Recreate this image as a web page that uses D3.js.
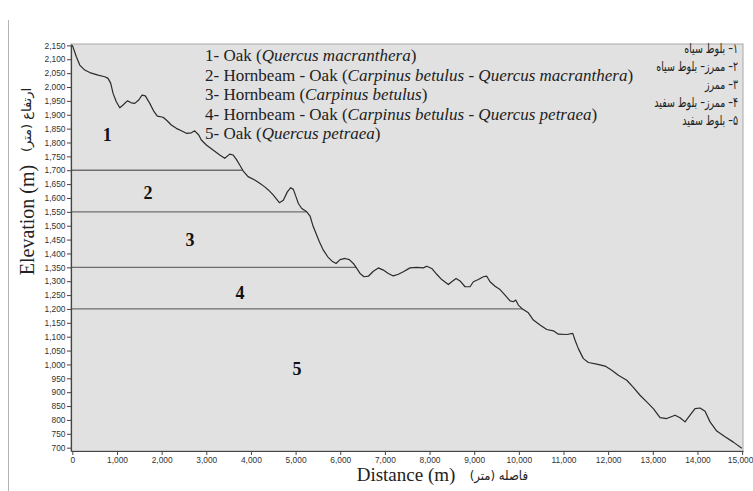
<!DOCTYPE html>
<html><head><meta charset="utf-8">
<script src="https://cdn.jsdelivr.net/npm/d3@7"></script>
<style>body{margin:0;background:#fff}svg{display:block}</style>
</head><body><svg id="c" width="753" height="491"></svg>
<script>
const distance = [0,90,166,278,390,576,726,800,860,912,985,1062,1136,1232,1321,1398,1487,1561,1635,1734,1830,1904,2031,2105,2217,2329,2441,2553,2665,2741,2831,2889,3001,3151,3301,3413,3525,3599,3673,3749,3823,3935,4085,4197,4309,4390,4502,4636,4726,4815,4891,4950,5010,5062,5138,5250,5324,5384,5458,5532,5622,5720,5810,5906,5996,6108,6204,6293,6370,6443,6533,6629,6741,6853,6965,7077,7189,7301,7413,7563,7713,7861,7937,8049,8161,8273,8421,8497,8594,8683,8795,8907,8981,9093,9205,9281,9355,9467,9579,9691,9803,9877,9930,9989,10065,10213,10325,10475,10625,10773,10885,11073,11207,11259,11333,11445,11557,11745,11931,12081,12228,12417,12564,12714,12864,13012,13162,13312,13498,13610,13722,13834,13946,14058,14170,14282,14432,14618,14804,14992];
const elevation = [2151,2109,2079,2061,2052,2043,2037,2031,2013,1977,1947,1925,1935,1950,1943,1941,1953,1971,1968,1941,1911,1895,1891,1881,1863,1851,1842,1833,1835,1842,1827,1809,1791,1773,1755,1743,1758,1755,1739,1719,1698,1677,1665,1653,1640,1629,1610,1583,1592,1622,1637,1631,1604,1580,1562,1550,1535,1502,1472,1442,1412,1388,1373,1364,1378,1382,1378,1364,1346,1328,1316,1318,1336,1348,1340,1328,1319,1325,1334,1348,1350,1348,1354,1346,1325,1306,1288,1298,1310,1301,1280,1280,1298,1306,1316,1318,1298,1282,1270,1250,1229,1226,1232,1214,1202,1186,1160,1142,1126,1121,1109,1108,1112,1087,1057,1021,1007,1001,994,979,961,943,917,889,865,841,808,805,817,808,793,817,841,843,831,793,760,739,720,698];
const zoneLevels = [1700,1550,1350,1200];
const zoneNames = ["1","2","3","4","5"];
const zoneLabelDist = [784,1695,2636,3756,5033];
const zoneLabelElev = [1827,1619,1448,1257,983];
const legendEn = [
  [["1- Oak (",0],["Quercus macranthera",1],[")",0]],
  [["2- Hornbeam - Oak (",0],["Carpinus betulus - Quercus macranthera",1],[")",0]],
  [["3- Hornbeam (",0],["Carpinus betulus",1],[")",0]],
  [["4- Hornbeam - Oak (",0],["Carpinus betulus - Quercus petraea",1],[")",0]],
  [["5- Oak (",0],["Quercus petraea",1],[")",0]]
];
const legendFa = ["\u200F۱– بلوط سیاه","\u200F۲– ممرز– بلوط سیاه","\u200F۳– ممرز","\u200F۴– ممرز– بلوط سفید","\u200F۵– بلوط سفید"];
const yTicks = d3.range(700, 2151, 50);
const xTicks = d3.range(0, 15001, 1000);
const xTitle = "Distance (m)", xTitleFa = "فاصله (متر)\u200F";
const yTitle = "Elevation (m)", yTitleFa = "ارتفاع (متر)\u200F";

const svg = d3.select("#c");
const L = 71, R = 743, T = 44, B = 451;
const x = d3.scaleLinear().domain([-30, 15020]).range([L, R]);
const y = d3.scaleLinear().domain([688, 2155]).range([B, T]);

// outer frame line
svg.append("line").attr("x1",8.5).attr("x2",8.5).attr("y1",20).attr("y2",491)
  .attr("stroke","#b4b4b4").attr("stroke-width",1);

// plot background
svg.append("rect").attr("x",L).attr("y",T).attr("width",R-L).attr("height",B-T)
  .attr("fill","#e1e1e1").attr("stroke","#a8a8a8").attr("stroke-width",1);

// zone boundary lines
const pts = distance.map((d,i)=>[d, elevation[i]]);
function crossAt(level){
  for(let i=1;i<pts.length;i++){
    if(pts[i][1] <= level && pts[i-1][1] > level){
      const t = (pts[i-1][1]-level)/(pts[i-1][1]-pts[i][1]);
      return pts[i-1][0] + t*(pts[i][0]-pts[i-1][0]);
    }
  }
  return 15000;
}
svg.append("g").selectAll("line").data(zoneLevels).join("line")
  .attr("x1", L).attr("x2", d=>x(crossAt(d)))
  .attr("y1", d=>y(d)).attr("y2", d=>y(d))
  .attr("stroke","#6e6e6e").attr("stroke-width",1.3);

// profile
svg.append("path").datum(pts)
  .attr("d", d3.line().x(d=>x(d[0])).y(d=>y(d[1])))
  .attr("fill","none").attr("stroke","#2b2b2b").attr("stroke-width",1.2).attr("stroke-linejoin","round");

// zone labels
svg.append("g").selectAll("text").data(zoneNames).join("text")
  .attr("x",(d,i)=>x(zoneLabelDist[i])).attr("y",(d,i)=>y(zoneLabelElev[i]))
  .attr("dy","0.35em").attr("text-anchor","middle")
  .attr("font-family","'Liberation Serif', 'Times New Roman', serif").attr("font-weight","bold")
  .attr("font-size",18).attr("fill","#111").text(d=>d);

// axes
const yAxis = svg.append("g").attr("transform",`translate(${L},0)`)
  .call(d3.axisLeft(y).tickValues(yTicks).tickSize(4).tickSizeOuter(0).tickPadding(1.5).tickFormat(d3.format(",")));
const xAxis = svg.append("g").attr("transform",`translate(0,${B})`)
  .call(d3.axisBottom(x).tickValues(xTicks).tickSize(4).tickSizeOuter(0).tickPadding(2).tickFormat(d3.format(",")));
[yAxis,xAxis].forEach(a=>{
  a.selectAll("text").attr("font-family","Arial, 'Liberation Sans', sans-serif").attr("font-size",8.4).attr("fill","#333");
  a.selectAll("line").attr("stroke","#444");
  a.select(".domain").attr("stroke","#444").attr("stroke-width",1.2);
});
xAxis.selectAll(".tick text").filter(d=>d===15000).attr("dx",-2);

// legend (English)
const serif = "'Liberation Serif', 'Times New Roman', serif";
const lg = svg.append("g").attr("font-family",serif).attr("font-size",17).attr("fill","#222");
legendEn.forEach((parts,i)=>{
  const t = lg.append("text").attr("x",205).attr("y",61 + i*19.5);
  parts.forEach(p=>t.append("tspan").attr("font-style",p[1]?"italic":"normal").text(p[0]));
});
// legend (Persian)
const fg = svg.append("g").attr("font-family","'DejaVu Sans', sans-serif").attr("font-size",13.5).attr("fill","#222");
legendFa.forEach((s,i)=>{
  fg.append("text").attr("transform",`translate(738,${53 + i*18}) scale(0.7,1)`).attr("text-anchor","end").text(s);
});

// axis titles
svg.append("text").attr("x",406).attr("y",481).attr("text-anchor","middle")
  .attr("font-family",serif).attr("font-size",19).attr("fill","#222").text(xTitle);
svg.append("text").attr("transform","translate(528,480) scale(0.9,1)").attr("text-anchor","end")
  .attr("font-family","'DejaVu Sans', sans-serif").attr("font-size",13).attr("fill","#222").text(xTitleFa);
svg.append("text").attr("transform","translate(34,220) rotate(-90)").attr("text-anchor","middle")
  .attr("font-family",serif).attr("font-size",20).attr("fill","#222").text(yTitle);
svg.append("text").attr("transform","translate(31,120) rotate(-90)").attr("text-anchor","middle")
  .attr("font-family","'DejaVu Sans', sans-serif").attr("font-size",13).attr("fill","#222").text(yTitleFa);
</script></body></html>
